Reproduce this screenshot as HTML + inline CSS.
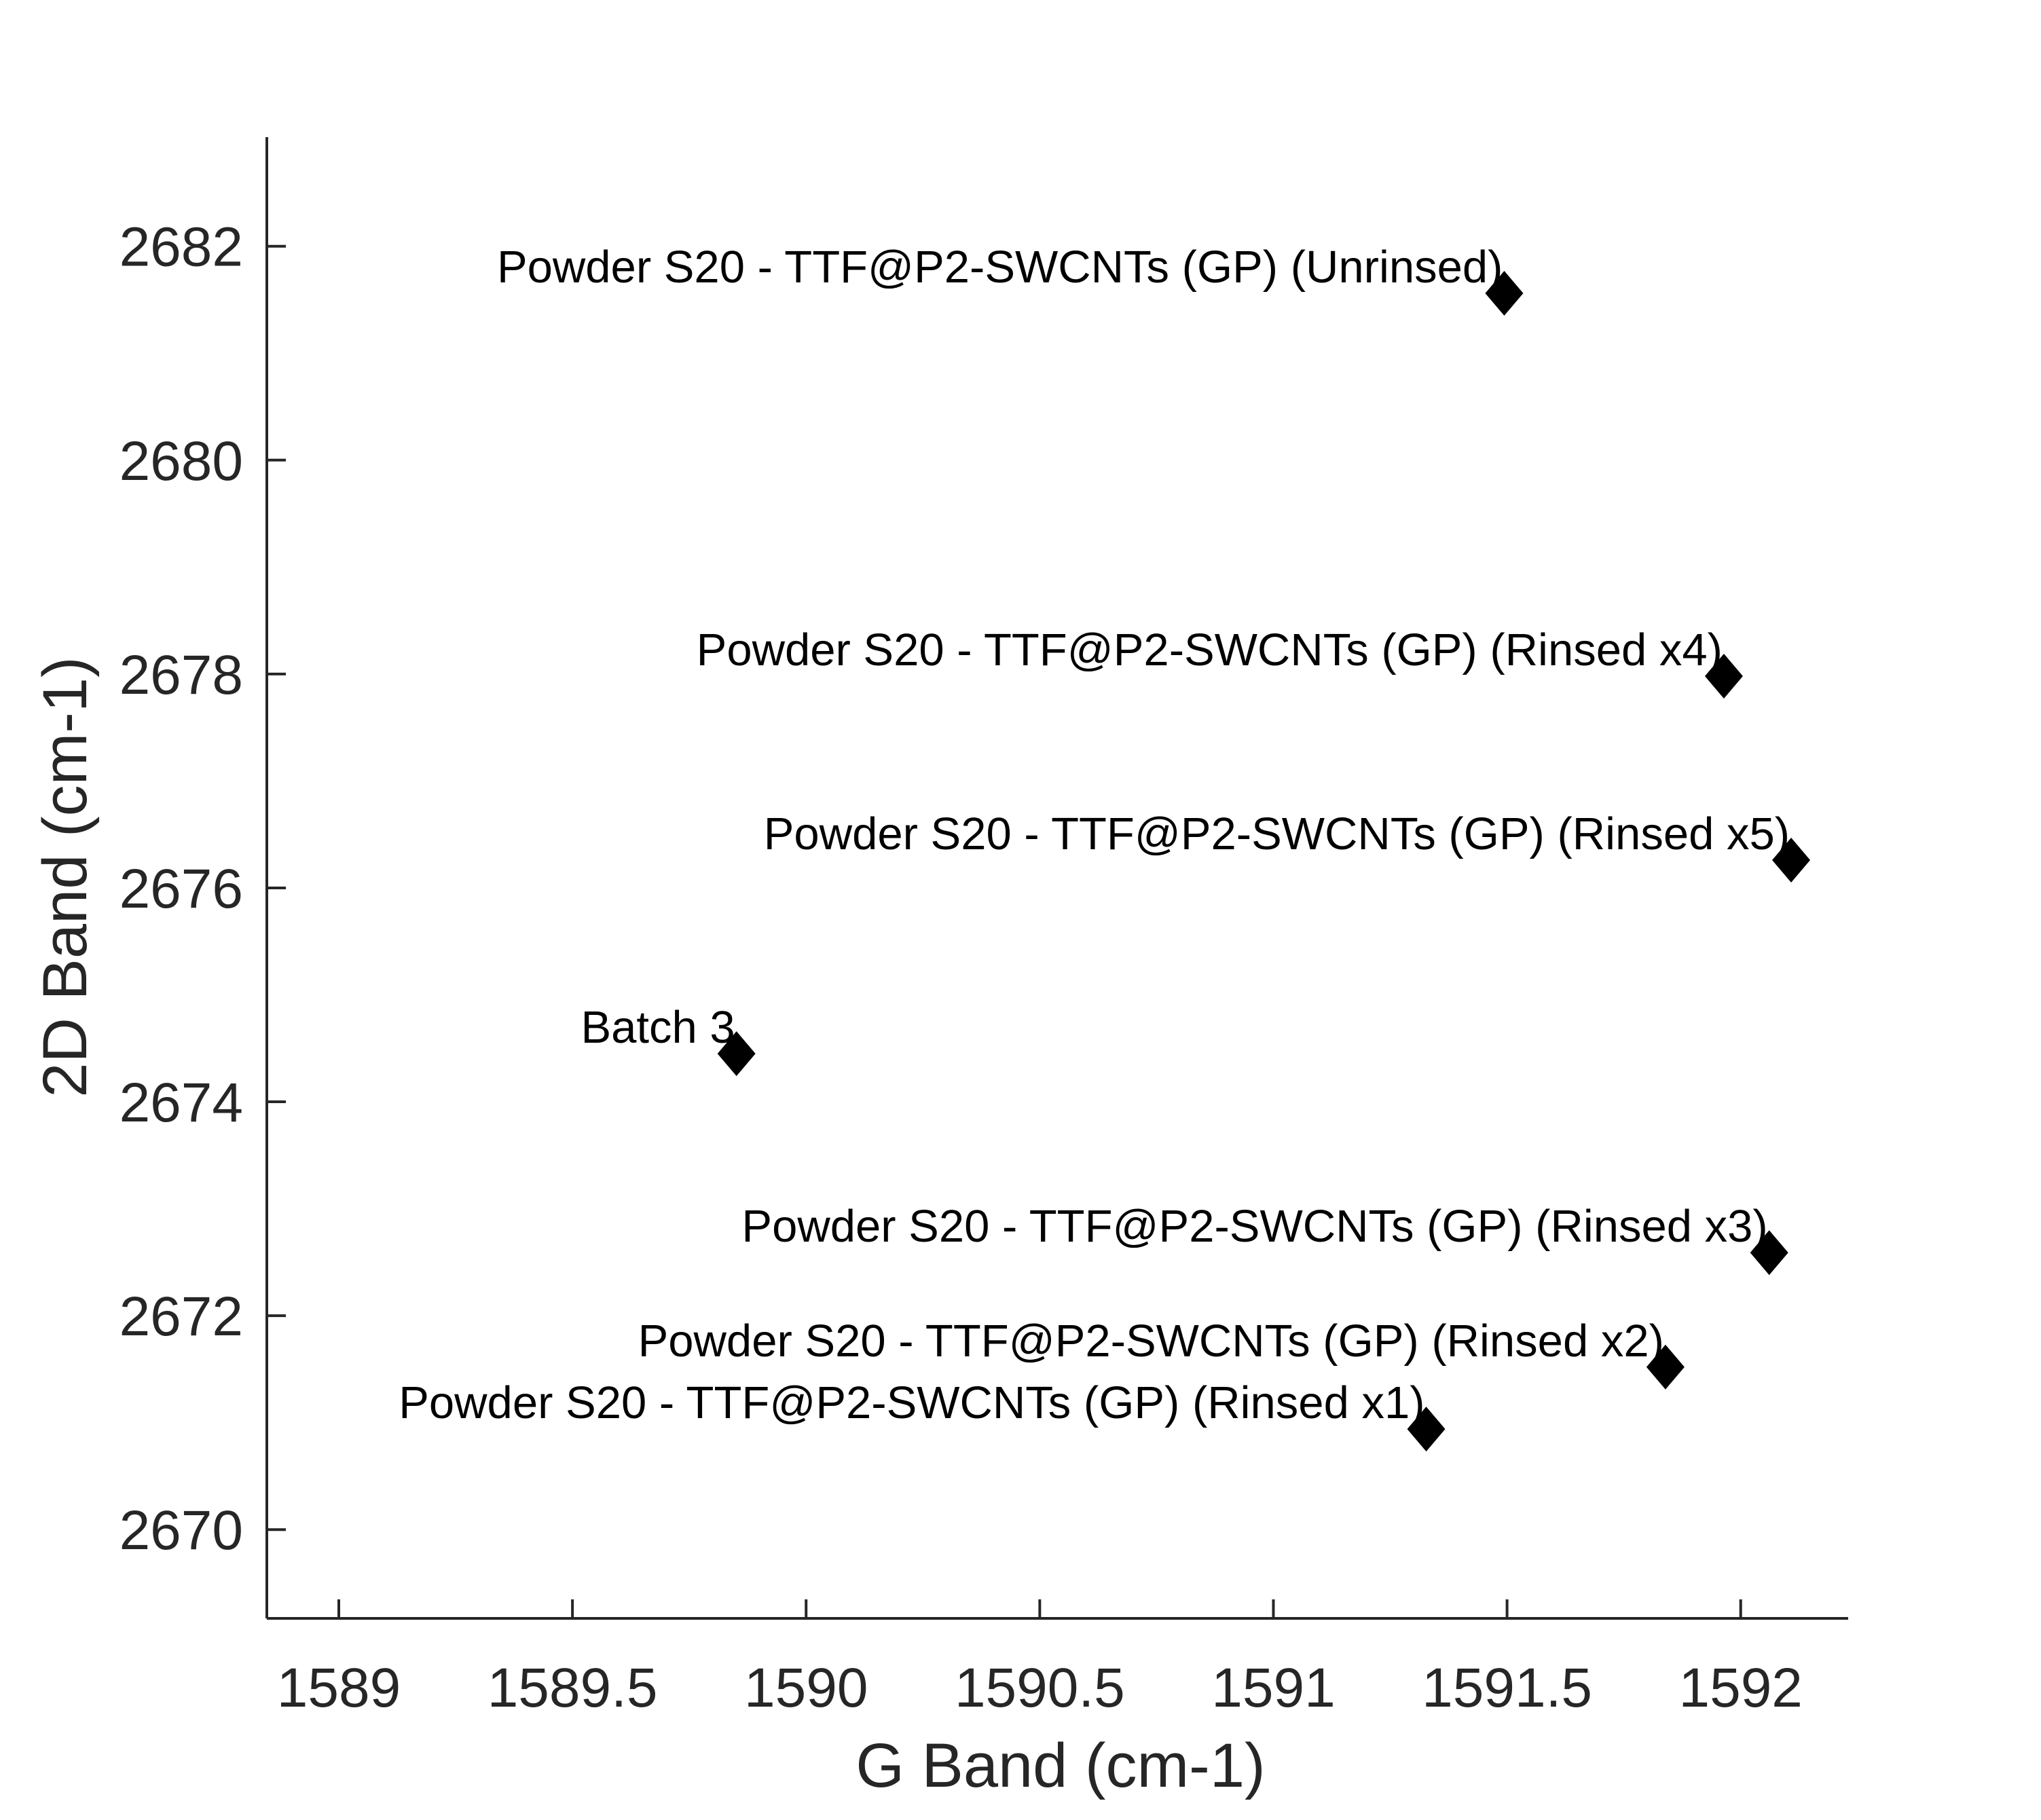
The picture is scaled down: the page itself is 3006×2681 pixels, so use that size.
<!DOCTYPE html>
<html><head><meta charset="utf-8"><style>html,body{margin:0;padding:0;background:#fff}svg{display:block}</style></head>
<body>
<svg id="chart" width="3006" height="2681" viewBox="0 0 3006 2681" xmlns="http://www.w3.org/2000/svg" font-family="'Liberation Sans', Arial, sans-serif">
<rect width="3006" height="2681" fill="#fff"/>
<g id="axes"></g>
<g id="marks"></g>
<text x="1562" y="2632" font-size="92" fill="#262626" text-anchor="middle">G Band (cm-1)</text>
<text transform="translate(127,1292) rotate(-90)" font-size="92" fill="#262626" text-anchor="middle">2D Band (cm-1)</text>
</svg>
<script>
const labels = ["Powder S20 - TTF@P2-SWCNTs (GP) (Unrinsed)","Powder S20 - TTF@P2-SWCNTs (GP) (Rinsed x4)","Powder S20 - TTF@P2-SWCNTs (GP) (Rinsed x5)","Batch 3","Powder S20 - TTF@P2-SWCNTs (GP) (Rinsed x3)","Powder S20 - TTF@P2-SWCNTs (GP) (Rinsed x2)","Powder S20 - TTF@P2-SWCNTs (GP) (Rinsed x1)"];
const gBand = [1591.494,1591.964,1592.108,1589.851,1592.061,1591.839,1591.327];
const dBand = [2681.56,2677.98,2676.26,2674.45,2672.59,2671.52,2670.94];
const xTicks = [1589,1589.5,1590,1590.5,1591,1591.5,1592];
const yTicks = [2670,2672,2674,2676,2678,2680,2682];
const NS="http://www.w3.org/2000/svg";
const X0=393,X1=2722,Y0=2384,Y1=202;
const xmin=1588.846,xmax=1592.23,ymin=2669.17,ymax=2683.02;
const sx=v=>X0+(v-xmin)/(xmax-xmin)*(X1-X0);
const sy=v=>Y0-(v-ymin)/(ymax-ymin)*(Y0-Y1);
function mk(tag,attrs,parent){const e=document.createElementNS(NS,tag);for(const k in attrs)e.setAttribute(k,attrs[k]);parent.appendChild(e);return e;}
const ax=document.getElementById('axes');
let l=mk('line',{x1:X0,y1:Y0,x2:X1,y2:Y0,stroke:'#262626','stroke-width':4},ax);


l=mk('line',{x1:X0,y1:Y0,x2:X0,y2:Y1,stroke:'#262626','stroke-width':4},ax);


xTicks.forEach(v=>{const x=sx(v);
 const t=mk('line',{x1:x,y1:Y0,x2:x,y2:Y0-28,stroke:'#262626','stroke-width':4},ax);
 
 
 const tx=mk('text',{x:x,y:2514,'font-size':82,fill:'#262626','text-anchor':'middle'},ax);
 tx.textContent=String(v);
 
 
});
yTicks.forEach(v=>{const y=sy(v);
 const t=mk('line',{x1:X0,y1:y,x2:X0+28,y2:y,stroke:'#262626','stroke-width':4},ax);
 
 
 const tx=mk('text',{x:358,y:y+29,'font-size':82,fill:'#262626','text-anchor':'end'},ax);
 tx.textContent=String(v);
 
 
});
const mg=document.getElementById('marks');
gBand.forEach((g,i)=>{const x=sx(g),y=sy(dBand[i]);
 const p=mk('polygon',{points:`${x},${y-33} ${x+28},${y} ${x},${y+33} ${x-28},${y}`,fill:'#000'},mg);
 
 
 const t=mk('text',{x:x-2,y:y-16,'font-size':67,fill:'#000','text-anchor':'end'},mg);
 t.textContent=labels[i];
 
 
});
</script>
</body></html>
